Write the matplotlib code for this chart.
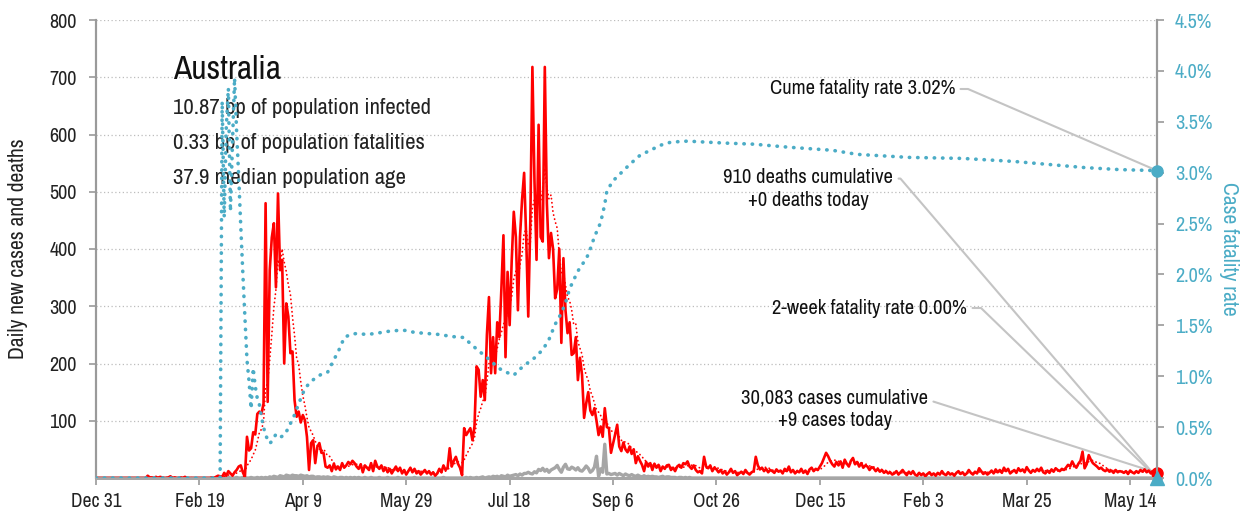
import math
import matplotlib
matplotlib.use("Agg")
import matplotlib.pyplot as plt
import pandas as pd

TEAL = "#4bacc6"
RED = "#ff0000"
GREY = "#a6a6a6"
AXGREY = "#9a9a9a"

plt.rcParams["font.family"] = ["Archivo Narrow", "Roboto Condensed", "DejaVu Sans"]

# x axis: days since Dec 31 2019
x_tick_days = [0, 50, 100, 150, 200, 250, 300, 350, 400, 450, 500]
x_tick_labels = ["Dec 31", "Feb 19", "Apr 9", "May 29", "Jul 18", "Sep 6",
                 "Oct 26", "Dec 15", "Feb 3", "Mar 25", "May 14"]

# daily new cases, one value per day from Dec 31 2019
cases = [
    0, 0, 0, 0, 0, 0, 0, 0, 0, 0,
    0, 0, 0, 0, 0, 0, 0, 0, 0, 0,
    0, 0, 0, 0, 0, 4, 1, 1, 0, 2,
    0, 2, 1, 0, 0, 1, 3, 0, 1, 0,
    0, 1, 0, 2, 0, 0, 0, 0, 0, 0,
    0, 0, 0, 0, 0, 0, 1, 0, 2, 4,
    3, 2, 9, 4, 12, 8, 4, 10, 14, 20,
    22, 10, 2, 72, 48, 52, 80, 76, 112, 116,
    112, 130, 480, 133, 363, 420, 445, 333, 497, 363,
    381, 200, 305, 282, 218, 221, 136, 107, 116, 97,
    110, 101, 72, 14, 61, 66, 26, 54, 61, 44,
    44, 20, 18, 22, 12, 25, 15, 20, 14, 26,
    18, 22, 28, 24, 30, 26, 20, 16, 24, 10,
    22, 18, 14, 26, 12, 30, 20, 16, 22, 12,
    18, 10, 16, 8, 14, 20, 12, 18, 8, 14,
    6, 12, 18, 10, 16, 8, 12, 6, 10, 14,
    8, 12, 6, 10, 4, 8, 16, 10, 22, 14,
    18, 52, 20, 30, 37, 25, 18, 5, 87, 75,
    81, 87, 66, 90, 195, 189, 142, 171, 136, 250,
    316, 183, 246, 183, 272, 246, 330, 424, 211, 360,
    267, 380, 465, 421, 293, 421, 486, 533, 420, 282,
    450, 718, 520, 381, 617, 421, 413, 718, 480, 384,
    428, 400, 314, 330, 400, 236, 384, 293, 253, 272,
    215, 218, 246, 171, 210, 180, 105, 130, 150, 118,
    110, 122, 100, 75, 90, 72, 122, 89, 87, 44,
    60, 76, 93, 55, 47, 62, 50, 45, 55, 42,
    50, 26, 38, 30, 23, 12, 28, 20, 26, 14,
    25, 18, 23, 12, 20, 16, 22, 23, 14, 18,
    12, 20, 23, 18, 26, 24, 29, 20, 16, 22,
    14, 10, 12, 8, 37, 20, 17, 22, 12, 18,
    15, 10, 14, 8, 12, 6, 10, 16, 9, 12,
    5, 8, 11, 7, 14, 9, 6, 10, 12, 37,
    22, 15, 18, 12, 16, 10, 14, 12, 9, 15,
    11, 13, 8, 16, 12, 20, 10, 14, 8, 12,
    10, 16, 9, 13, 7, 15, 18, 12, 16, 14,
    20, 26, 35, 44, 38, 30, 24, 20, 28, 22,
    29, 18, 32, 25, 20, 30, 35, 24, 28, 20,
    26, 18, 22, 20, 14, 19, 17, 12, 16, 11,
    14, 9, 12, 8, 10, 6, 8, 12, 6, 10,
    14, 9, 5, 11, 7, 12, 6, 4, 9, 5,
    8, 3, 7, 10, 5, 8, 4, 9, 6, 12,
    7, 5, 10, 6, 8, 4, 9, 12, 7, 10,
    5, 8, 14, 9, 6, 11, 8, 17, 12, 7,
    10, 6, 9, 13, 8, 15, 10, 14, 9, 18,
    12, 16, 8, 11, 14, 9, 17, 12, 15, 10,
    19, 13, 9, 14, 11, 16, 12, 18, 10, 8,
    13, 9, 15, 11, 17, 14, 12, 16, 14, 18,
    23, 20, 29, 22, 18, 25, 30, 46, 17, 24,
    40, 32, 26, 23, 20, 16, 18, 14, 12, 15,
    11, 13, 9, 14, 10, 12, 11, 9, 12, 7,
    13, 10, 8, 12, 9, 14, 11, 15, 10, 13,
    8, 12, 10, 9,
]

# daily deaths
deaths = [0] * 60 + [
    0, 1, 0, 0, 1, 0, 0, 0, 1, 0,
    0, 1, 0, 0, 0, 1, 0, 0, 1, 0,
    1, 0, 1, 0, 2, 1, 3, 2, 1, 4,
    3, 2, 5, 4, 3, 5, 4, 4, 3, 5,
    4, 3, 4, 2, 3, 3, 1, 2, 2, 1,
    2, 1, 2, 1, 0, 2, 1, 0, 1, 1,
    0, 1, 0, 1, 0, 1, 0, 1, 0, 0,
    1, 0, 0, 1, 0, 0, 0, 1, 0, 0,
    0, 1, 0, 0, 0, 0, 1, 0, 0, 0,
    0, 0, 0, 0, 1, 0, 0, 0, 0, 0,
    0, 0, 0, 0, 0, 0, 0, 0, 1, 0,
    0, 0, 0, 0, 0, 0, 0, 0, 0, 1,
    0, 1, 0, 0, 1, 0, 1, 2, 0, 1,
    2, 1, 3, 2, 3, 1, 4, 3, 2, 5,
    3, 4, 5, 6, 4, 7, 5, 8, 8, 10,
    8, 7, 11, 9, 15, 13, 17, 12, 15, 10,
    14, 16, 18, 22, 15, 10, 19, 24, 16, 15,
    19, 17, 14, 18, 13, 12, 16, 21, 17, 10,
    13, 19, 38, 3, 16, 10, 59, 7, 8, 6,
    7, 8, 5, 8, 6, 4, 7, 5, 4, 6,
    4, 3, 5, 3, 2, 4, 2, 3, 2, 3,
    2, 2, 1, 2, 3, 1, 2, 2, 1, 1,
    1, 0, 1, 1, 0, 1, 0, 1, 0, 0,
] + [0] * 224

# cumulative case fatality rate (%)
cfr_days = [0, 60, 61, 62, 63, 64, 65, 66, 67, 68, 69, 70, 71, 72, 73, 74, 75,
            76, 77, 78, 79, 80, 81, 82, 83, 84, 85, 87, 89, 91, 93, 95, 96, 98,
            100, 101, 104, 106, 109, 112, 114, 116, 118, 120, 123, 126, 131,
            135, 141, 146, 150, 154, 160, 166, 172, 178, 181, 185, 188, 191,
            194, 197, 202, 205, 208, 212, 216, 219, 222, 225, 227, 229, 232,
            234, 237, 239, 241, 244, 246, 247, 250, 254, 258, 263, 268, 273,
            278, 286, 295, 305, 318, 335, 356, 368, 393, 419, 444, 461, 478,
            495, 513]
cfr_pct = [0, 0, 3.70, 2.56, 3.45, 3.83, 2.62, 3.30, 3.93, 3.40, 2.96, 2.47,
           2.01, 1.58, 1.16, 0.95, 0.68, 1.08, 0.90, 0.78, 0.72, 0.60, 0.50,
           0.42, 0.38, 0.34, 0.36, 0.43, 0.40, 0.42, 0.49, 0.58, 0.62, 0.73,
           0.83, 0.88, 0.95, 0.98, 1.02, 1.04, 1.12, 1.20, 1.28, 1.38, 1.41,
           1.42, 1.41, 1.42, 1.44, 1.45, 1.45, 1.43, 1.42, 1.41, 1.39, 1.38,
           1.32, 1.25, 1.20, 1.15, 1.09, 1.05, 1.01, 1.07, 1.12, 1.18, 1.26,
           1.36, 1.51, 1.62, 1.72, 1.86, 1.99, 2.07, 2.15, 2.25, 2.37, 2.51,
           2.69, 2.82, 2.92, 3.00, 3.08, 3.17, 3.22, 3.27, 3.30, 3.31, 3.30,
           3.29, 3.28, 3.25, 3.22, 3.18, 3.15, 3.14, 3.11, 3.08, 3.05, 3.03,
           3.02]
two_week_cfr = 0.00

country = "Australia"
info_lines = ["10.87 bp of population infected",
              "0.33 bp of population fatalities",
              "37.9 median population age"]
cume_text = "Cume fatality rate 3.02%"
deaths_text = "910 deaths cumulative\n+0 deaths today"
twoweek_text = "2-week fatality rate 0.00%"
cases_text = "30,083 cases cumulative\n+9 cases today"

days = list(range(len(cases)))
last = days[-1]
avg7 = pd.Series(cases).rolling(7, min_periods=1).mean()

W, H = 1244, 517
fig = plt.figure(figsize=(W / 100, H / 100), dpi=100)
ax = fig.add_axes([96 / W, 39 / H, 1061 / W, 458 / H])
ax2 = ax.twinx()

ax.plot(days, deaths, color=GREY, lw=2.4, zorder=2)
ax.plot(days, cases, color=RED, lw=1.9, zorder=3)
ax.plot(days, avg7, color=RED, lw=1.3, linestyle=(0, (0.1, 2.2)),
        dash_capstyle="round", zorder=3)
ax2.plot(cfr_days, cfr_pct, color=TEAL, lw=2.6, linestyle=(0, (0.1, 2.2)),
         dash_capstyle="round", zorder=4)

ax.set_xlim(0, last)
ax.set_ylim(0, 800)
ax2.set_ylim(0, 4.5)
ax.set_xticks(x_tick_days)
ax.set_xticklabels(x_tick_labels)
ax.set_yticks(range(100, 801, 100))
ax2.set_yticks([i * 0.5 for i in range(10)])
ax2.set_yticklabels(["%.1f%%" % (i * 0.5) for i in range(10)])

ax.yaxis.grid(True, linestyle=(0, (1, 2)), color="#bdbdbd", lw=0.9)
ax.set_axisbelow(True)

for a in (ax, ax2):
    a.spines["top"].set_visible(False)
    a.spines["left"].set_color(AXGREY)
    a.spines["right"].set_color(AXGREY)
    a.spines["left"].set_linewidth(1.5)
    a.spines["right"].set_linewidth(1.5)
    a.spines["bottom"].set_color(GREY)
    a.spines["bottom"].set_linewidth(2)
ax.tick_params(axis="y", length=5, width=1.2, color=AXGREY, pad=9,
               labelsize=14.5, labelcolor="#222222")
ax.tick_params(axis="x", length=5, width=1.2, color=AXGREY, pad=5,
               labelsize=14, labelcolor="#222222")
ax2.tick_params(axis="y", length=5, width=1.2, color=AXGREY, pad=8,
                labelsize=14.5, labelcolor=TEAL)

ax.set_ylabel("Daily new cases and deaths", fontsize=15.5, color="#222222")
ax.yaxis.set_label_coords(-0.064, 0.5)
ax2.set_ylabel("Case fatality rate", fontsize=15.5, color=TEAL, rotation=270,
               va="center")
ax2.yaxis.set_label_coords(1.068, 0.5)

# headline block
ax.text(0.0726, 0.891, country, transform=ax.transAxes, fontsize=24,
        va="center", ha="left", color="#111111")
for i, line in enumerate(info_lines):
    ax.text(0.0726, 0.808 - i * 0.0765, line, transform=ax.transAxes,
            fontsize=16.4, va="center", ha="left", color="#222222")

# end markers
ax.plot(last, deaths[-1], "o", color=GREY, ms=7, clip_on=False, zorder=5)
ax.plot(last, cases[-1], "o", color=RED, ms=8, clip_on=False, zorder=6)
ax2.plot(last, cfr_pct[-1], "o", color=TEAL, ms=8, clip_on=False, zorder=6)
ax2.plot(last, two_week_cfr, "^", color=TEAL, ms=10, clip_on=False, zorder=7)


def callout(text, right_px, center_py, start_py, target, trans, relpos_y):
    x_end, y_end = trans.transform(target)
    xs, ys = right_px + 3, H - start_py
    ang = math.degrees(math.atan2(y_end - ys, x_end - (xs + 10)))
    ax.annotate(text, xy=target, xycoords=trans,
                xytext=((right_px - 96) / 1061, (478 - center_py) / 458),
                textcoords="axes fraction", ha="right", va="center",
                multialignment="center", fontsize=14.8, color="#111111",
                linespacing=1.25,
                arrowprops=dict(arrowstyle="-", color="#c4c4c4", lw=1.5,
                                shrinkA=2, shrinkB=0, relpos=(1, relpos_y),
                                connectionstyle="angle,angleA=0,angleB=%.2f" % ang),
                zorder=1)


callout(cume_text, 955, 89, 89, (last, cfr_pct[-1]), ax2.transData, 0.5)
callout(deaths_text, 893, 189, 185, (last, deaths[-1]), ax.transData, 0.75)
callout(twoweek_text, 967, 308, 307, (last, two_week_cfr), ax2.transData, 0.5)
callout(cases_text, 928, 409, 404, (last, cases[-1]), ax.transData, 0.75)

fig.savefig("out.png", dpi=100)
